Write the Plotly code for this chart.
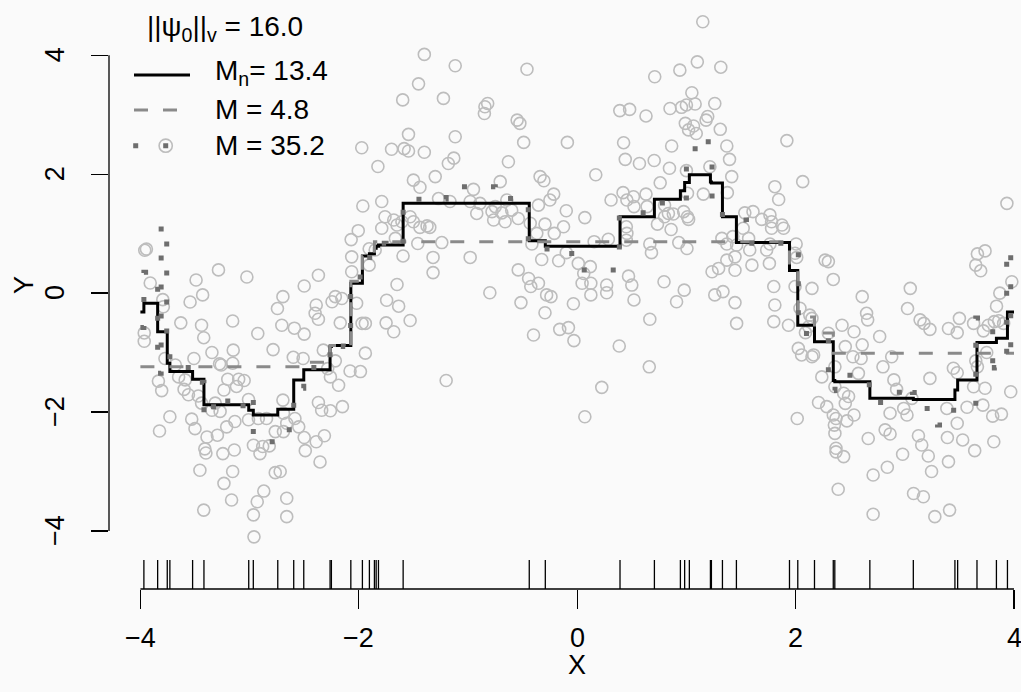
import plotly.graph_objects as go

# ------------------------------------------------------------------ data
# observations (x, y) read from the picture, grouped by region
obs_left = [
    (-3.96, 0.72), (-3.945, 0.74), (-3.91, 0.17), (-3.795, -0.11), (-3.79, -0.23),
    (-3.965, -0.67), (-3.965, -0.81), (-3.775, -1.10), (-3.68, -1.21), (-3.65, -1.41),
    (-3.835, -1.48), (-3.805, -1.64), (-3.60, -1.62), (-3.56, -1.71), (-3.73, -2.08),
    (-3.825, -2.32), (-3.49, 0.22), (-3.43, -0.03), (-3.545, -0.15), (-3.63, -0.50),
    (-3.44, -0.54), (-3.42, -0.75), (-3.285, 0.39), (-3.025, 0.27), (-3.155, -0.47),
    (-2.925, -0.68), (-2.785, -0.95), (-3.345, -1.0), (-3.51, -1.10), (-3.275, -1.19),
    (-3.26, -1.21), (-3.15, -0.96), (-3.155, -1.18), (-3.20, -1.45), (-3.10, -1.45),
    (-3.05, -1.47), (-3.12, -1.57), (-3.59, -1.46), (-3.47, -1.73), (-3.44, -1.85),
    (-3.235, -1.63), (-3.315, -1.85), (-3.345, -1.97), (-3.27, -1.99), (-3.21, -2.25),
    (-3.295, -2.39), (-3.39, -2.42), (-3.53, -2.12), (-3.50, -2.28), (-3.41, -2.62),
    (-3.40, -2.69), (-3.455, -2.98), (-3.245, -2.70), (-3.14, -2.64), (-3.155, -3.0),
    (-3.235, -3.20), (-3.165, -3.48), (-3.42, -3.65), (-3.01, -1.79), (-3.135, -2.16),
    (-3.01, -2.13), (-2.92, -2.11), (-2.845, -2.11), (-2.765, -2.33), (-2.69, -2.33),
    (-2.965, -2.56), (-2.905, -2.70), (-2.88, -2.58), (-2.82, -2.57), (-2.765, -3.02),
    (-2.72, -3.0), (-2.87, -3.33), (-2.93, -3.51), (-2.965, -3.73), (-2.96, -4.10),
    (-2.695, -0.06), (-2.745, -0.26), (-2.705, -0.54), (-2.695, -1.80), (-2.69, -2.02),
    (-2.66, -3.45), (-2.66, -3.76),
]
obs_leftmid = [
    (-1.825, 2.13), (-1.50, 1.90), (-1.44, 1.78), (-1.30, 1.96), (-1.963, 1.465),
    (-1.79, 1.54), (-1.76, 1.285), (-1.68, 1.23), (-1.65, 1.145), (-1.605, 1.20),
    (-1.53, 1.285), (-1.50, 1.20), (-1.44, 1.105), (-1.375, 1.13), (-1.35, 1.105),
    (-2.005, 1.05), (-2.07, 0.90), (-1.79, 1.09), (-1.905, 0.745), (-1.85, 0.725),
    (-1.665, 0.92), (-1.46, 0.835), (-1.595, 0.625), (-1.32, 0.60), (-1.32, 0.345),
    (-2.065, 0.61), (-1.905, 0.47), (-2.065, 0.36), (-2.37, 0.30), (-2.50, 0.12),
    (-1.65, 0.145), (-1.745, -0.12), (-1.635, -0.22), (-2.245, -0.145), (-2.155, -0.09),
    (-2.215, -0.06), (-2.39, -0.20), (-2.40, -0.34), (-2.37, -0.44), (-2.02, -0.17),
    (-2.17, -0.50), (-1.97, -0.51), (-1.94, -0.51), (-1.75, -0.50), (-1.68, -0.65),
    (-1.53, -0.46), (-2.59, -0.59), (-2.50, -0.69), (-2.325, -0.96), (-2.215, -1.14),
    (-2.285, -1.27), (-2.26, -1.41), (-2.185, -1.55), (-1.94, -1.01), (-2.08, -1.31),
    (-1.985, -1.32), (-2.60, -1.08), (-2.51, -1.10), (-2.37, -1.84), (-2.34, -1.97),
    (-2.26, -1.98), (-2.15, -1.91), (-2.66, -2.19), (-2.585, -2.11), (-2.55, -2.25),
    (-2.50, -2.43), (-2.39, -2.50), (-2.315, -2.40), (-2.49, -2.65), (-2.355, -2.84),
]
obs_top = [
    (-1.40, 4.015), (-1.117, 3.825), (-1.453, 3.52), (-1.598, 3.25), (-1.225, 3.275),
    (-1.545, 2.67), (-1.117, 2.63), (-1.973, 2.445), (-1.70, 2.42), (-1.585, 2.43),
    (-1.545, 2.39), (-1.40, 2.37), (-1.18, 2.18), (-1.13, 2.27),
]
obs_center = [
    (-0.46, 3.765), (-0.845, 3.135), (-0.82, 3.19), (-0.85, 3.02), (-0.55, 2.91),
    (-0.525, 2.855), (-0.49, 2.535), (-0.09, 2.535), (-0.63, 2.21), (-0.705, 1.875),
    (-0.95, 1.745), (-0.34, 1.96), (-0.305, 1.89), (-0.215, 1.665), (-0.25, 1.565),
    (-1.165, 1.54), (-1.27, 1.59), (-0.98, 1.54), (-0.89, 1.51), (-0.92, 1.34),
    (-0.78, 1.37), (-0.75, 1.455), (-0.765, 1.23), (-0.66, 1.20), (-0.69, 1.35),
    (-0.60, 1.395), (-0.54, 1.255), (-0.645, 1.565), (-0.355, 1.48), (-0.10, 1.385),
    (0.07, 1.27), (-0.43, 1.175), (-0.295, 1.16), (-0.21, 1.005), (-0.125, 1.115),
    (-0.37, 1.005), (-1.24, 0.85), (-0.415, 0.825), (-0.98, 0.60), (-0.325, 0.565),
    (-0.17, 0.545), (-0.10, 0.68), (-0.54, 0.39), (-0.445, 0.245), (-0.425, 0.11),
    (-0.355, 0.165), (0.01, 0.50), (0.06, 0.33), (0.045, 0.165), (-0.28, -0.03),
    (-0.24, -0.06), (-0.295, -0.33), (-0.80, 0.005), (-0.515, -0.16), (-0.035, -0.18),
    (-0.16, -0.61), (-0.08, -0.58), (-0.40, -0.705), (-0.03, -0.80), (-1.20, -1.47),
    (0.07, -2.08),
]
obs_centerright = [
    (1.15, 4.565), (1.10, 3.89), (0.94, 3.75), (1.315, 3.80), (0.71, 3.64),
    (1.05, 3.37), (1.00, 3.165), (1.08, 3.18), (0.955, 3.125), (1.26, 3.19),
    (0.85, 3.105), (0.39, 3.07), (0.48, 3.09), (0.63, 2.98), (0.99, 2.855),
    (1.02, 2.745), (1.065, 2.81), (1.09, 2.685), (1.18, 2.91), (1.195, 2.97),
    (1.31, 2.755), (0.425, 2.53), (0.865, 2.475), (1.37, 2.475), (0.44, 2.25),
    (0.57, 2.18), (0.705, 2.23), (0.845, 2.10), (1.00, 2.06), (1.215, 2.125),
    (1.395, 2.25), (0.17, 1.99), (0.76, 1.855), (1.415, 1.96), (1.01, 1.68),
    (1.155, 1.665), (1.375, 1.69), (0.42, 1.69), (0.31, 1.565), (0.455, 1.565),
    (0.515, 1.62), (0.63, 1.665), (0.52, 1.455), (0.64, 1.455), (0.80, 1.48),
    (0.835, 1.34), (0.88, 1.33), (0.80, 1.285), (0.975, 1.37), (1.01, 1.285),
    (1.02, 1.24), (0.86, 1.07), (0.735, 1.16), (0.45, 1.115), (0.455, 1.005),
    (0.45, 0.89), (0.155, 0.865), (0.285, 0.905), (0.665, 0.825), (0.68, 0.68),
    (0.93, 0.85), (1.005, 0.75), (1.325, 0.92), (1.37, 0.825), (1.425, 0.95),
    (1.46, 0.81), (1.37, 0.555), (1.235, 0.36), (1.295, 0.415), (1.445, 0.385),
    (0.12, 0.445), (0.125, 0.165), (0.125, -0.03), (0.27, 0.135), (0.27, 0.005),
    (0.47, 0.285), (0.50, 0.135), (0.52, -0.115), (0.795, 0.19), (0.98, 0.05),
    (0.91, -0.145), (1.26, -0.03), (1.335, 0.025), (1.445, -0.16), (1.46, -0.51),
    (0.665, -0.44), (0.385, -0.89), (0.66, -1.24), (0.225, -1.585),
]
obs_right = [
    (1.92, 2.565), (2.065, 1.875), (1.81, 1.79), (1.845, 1.575), (1.535, 1.35),
    (1.61, 1.37), (1.69, 1.24), (1.765, 1.315), (1.78, 1.20), (1.875, 1.145),
    (1.89, 1.09), (1.78, 1.09), (1.52, 1.09), (1.57, 0.92), (1.58, 0.725),
    (1.735, 0.725), (1.765, 0.825), (1.445, 0.61), (1.60, 0.47), (1.76, 0.50),
    (2.005, 0.825), (1.995, 0.67), (2.01, 0.60), (2.27, 0.555), (2.30, 0.53),
    (2.345, 0.23), (1.80, 0.11), (1.995, 0.11), (2.15, 0.08), (1.81, -0.20),
    (2.04, -0.255), (2.13, -0.37), (2.15, -0.425), (1.80, -0.48), (1.935, -0.54),
    (2.09, -0.665), (2.12, -0.565), (2.025, -0.93), (2.055, -1.04), (2.15, -1.07),
    (2.165, -1.04), (2.24, -1.41), (2.36, -1.575), (2.44, -1.685), (2.485, -1.74),
    (2.455, -1.855), (2.425, -0.54), (2.535, -0.65), (2.61, -0.87), (2.455, -0.90),
    (2.525, -1.07), (2.60, -1.10), (2.65, -0.34), (2.66, -0.45), (2.77, -0.73),
    (2.61, -0.06), (2.80, -1.24), (2.30, -0.675), (2.36, -1.24), (2.575, -1.35),
    (2.015, -2.11), (2.21, -1.84), (2.285, -1.91), (2.345, -2.05), (2.37, -2.11),
    (2.355, -2.22), (2.36, -2.36), (2.47, -2.15), (2.535, -2.05), (2.37, -2.61),
    (2.37, -2.67), (2.44, -2.75), (2.665, -2.445), (2.71, -3.06), (2.39, -3.30),
    (2.71, -3.72),
]
obs_farright = [
    (3.935, 1.51), (3.665, 0.66), (3.735, 0.71), (3.65, 0.47), (3.695, 0.375),
    (3.98, 0.19), (3.87, 0.0), (3.84, -0.22), (3.05, 0.08), (3.025, -0.26),
    (3.14, -0.45), (3.175, -0.51), (3.23, -0.61), (3.40, -0.595), (3.50, -0.425),
    (3.48, -0.665), (3.63, -0.51), (3.72, -0.635), (3.765, -0.54), (3.82, -0.48),
    (3.86, -0.465), (3.905, -0.51), (3.75, -1.0), (3.65, -1.14), (3.665, -1.24),
    (2.88, -1.07), (2.90, -1.46), (2.925, -1.62), (2.99, -1.94), (3.02, -2.05),
    (3.065, -1.77), (2.865, -2.02), (3.23, -1.435), (3.445, -1.265), (3.48, -1.34),
    (3.385, -1.94), (3.48, -2.19), (3.57, -1.92), (3.715, -1.885), (3.805, -2.07),
    (3.885, -2.035), (3.63, -1.575), (3.735, -1.60), (3.97, -1.66), (2.82, -2.30),
    (2.865, -2.37), (3.125, -2.40), (3.155, -2.555), (3.39, -2.43), (3.53, -2.47),
    (3.64, -2.65), (3.815, -2.50), (2.98, -2.71), (3.215, -2.74), (3.245, -3.0),
    (3.40, -2.835), (2.84, -2.93), (3.08, -3.37), (3.17, -3.425), (3.275, -3.76),
    (3.41, -3.65),
]

# step fit M_n = 13.4 (solid): knots (also shown as rug) and levels
x_start, x_end = -4.0, 4.0
fit_knots = [-3.968, -3.842, -3.754, -3.730, -3.522, -3.418, -3.008, -2.966, -2.742,
             -2.596, -2.504, -2.263, -2.251, -2.073, -1.967, -1.903, -1.857, -1.841,
             -1.820, -1.594, -0.439, -0.292, 0.392, 0.707, 0.945, 0.984, 1.027, 1.220,
             1.229, 1.330, 1.458, 1.944, 2.020, 2.173, 2.345, 2.359, 2.680, 3.078,
             3.459, 3.484, 3.661, 3.839, 3.940]
fit_levels = [-0.32, -0.17, -0.65, -1.18, -1.32, -1.45, -1.88, -1.97, -2.05, -1.955,
              -1.46, -1.29, -0.90, -0.88, 0.165, 0.625, 0.66, 0.755, 0.79, 0.81,
              1.51, 0.88, 0.79, 1.285, 1.58, 1.72, 1.86, 1.99, 1.87, 1.85, 1.285,
              0.85, 0.38, -0.54, -0.82, -1.47, -1.49, -1.77, -1.79, -1.63, -1.46,
              -0.83, -0.76, -0.32]

# step fit M = 4.8 (dashed)
coarse_knots = [-2.504, -2.263, -2.073, -1.967, -1.857, 1.944, 2.020, 2.173, 2.345]
coarse_levels = [-1.24, -1.165, -0.88, 0.20, 0.62, 0.865, 0.505, -0.40, -0.67, -1.01]

# step fit M = 35.2 (dotted)
fine_knots = [-3.968, -3.842, -3.810, -3.759, -3.730, -3.520, -3.418, -3.330, -3.200,
              -3.060, -2.966, -2.760, -2.596, -2.504, -2.263, -2.142, -2.075, -1.900,
              -1.750, -1.594, -1.200, -0.750, -0.448, -0.050, 0.386, 0.780, 1.000,
              1.080, 1.200, 1.235, 1.330, 1.550, 2.025, 2.300, 2.361, 2.675, 2.950,
              3.070, 3.150, 3.300, 3.420, 3.650, 3.805, 3.820, 3.933, 3.970]
fine_levels = [-0.58, 0.35, -1.35, 1.15, -0.90, -1.25, -1.50, -2.10, -1.74, -1.97,
               -1.71, -2.50, -2.30, -1.60, -1.25, -0.83, -0.90, 0.27, 0.84, 0.77,
               1.58, 1.79, 1.59, 0.74, 0.39, 1.35, 1.60, 2.30, 2.62, 2.30, 1.50,
               1.23, 0.84, -0.68, -1.64, -1.38, -1.84, -1.55, -1.67, -1.94, -2.22,
               -1.97, -0.42, -1.43, -1.25, 0.75, -1.07]

x_ticks = [-4, -2, 0, 2, 4]
x_tick_labels = ["\u22124", "\u22122", "0", "2", "4"]
y_ticks = [-4, -2, 0, 2, 4]
y_tick_labels = ["\u22124", "\u22122", "0", "2", "4"]
x_title, y_title = "X", "Y"
legend_title = "||\u03c8<sub>0</sub>||<sub>v</sub> = 16.0"
legend_labels = ["M<sub>n</sub>= 13.4", "M = 4.8", "M = 35.2"]

# ------------------------------------------------------------------ layout (page pixels)
W, H = 1021, 692
ML, MR, MT, MB = 109, 0, 0, H - 589
PW, PH = W - ML - MR, H - MT - MB
BG = "#FAFAFA"
C_PT = "#BDBDBD"
C_DASH = "#8A8A8A"
C_DOT = "#6E6E6E"
FONT = "Liberation Sans, Arial, sans-serif"
FS = 27
FS_LEG = 28
X0_PX, X_UNIT = 577.2, 109.2     # page px of x=0, px per unit
Y0_PX, Y_UNIT = 293.1, 59.45     # page px of y=0, px per unit


def step_xy(knots, levels):
    xs = [x_start] + list(knots) + [x_end]
    ys = list(levels) + [levels[-1]]
    return xs, ys


def paper_x(px):
    return (px - ML) / PW


def paper_y(py):
    return (MT + PH - py) / PH


fig = go.Figure()

all_obs = obs_left + obs_leftmid + obs_top + obs_center + obs_centerright + obs_right + obs_farright
fig.add_trace(go.Scatter(
    x=[p[0] for p in all_obs], y=[p[1] for p in all_obs], mode="markers",
    marker=dict(symbol="circle-open", size=12, color=C_PT, line=dict(width=1.6, color=C_PT)),
    showlegend=False, hoverinfo="skip"))

sx, sy = step_xy(fit_knots, fit_levels)
fig.add_trace(go.Scatter(x=sx, y=sy, mode="lines", line=dict(color="black", width=3, shape="hv"),
                         showlegend=False, hoverinfo="skip"))
cx, cy = step_xy(coarse_knots, coarse_levels)
fig.add_trace(go.Scatter(x=cx, y=cy, mode="lines",
                         line=dict(color=C_DASH, width=3, shape="hv", dash="14px,15px"),
                         showlegend=False, hoverinfo="skip"))
fx, fy = step_xy(fine_knots, fine_levels)
fig.add_trace(go.Scatter(x=fx, y=fy, mode="lines",
                         line=dict(color=C_DOT, width=5, shape="hv", dash="5px,24px"),
                         showlegend=False, hoverinfo="skip"))

shapes = []
shapes.append(dict(type="line", xref="x", yref="paper", x0=x_ticks[0], x1=x_ticks[-1], y0=0, y1=0,
                   line=dict(color="black", width=1.3)))
shapes.append(dict(type="line", xref="paper", yref="y", x0=0, x1=0, y0=y_ticks[0], y1=y_ticks[-1],
                   line=dict(color="black", width=1.3)))
rug_h = 29 / PH
for k in fit_knots:
    shapes.append(dict(type="line", xref="x", yref="paper", x0=k, x1=k, y0=0, y1=rug_h,
                       line=dict(color="black", width=1.3)))

rows_y = [75, 110, 145.7]
shapes.append(dict(type="line", xref="paper", yref="paper", x0=paper_x(134), x1=paper_x(190),
                   y0=paper_y(rows_y[0]), y1=paper_y(rows_y[0]), line=dict(color="black", width=3)))
shapes.append(dict(type="line", xref="paper", yref="paper", x0=paper_x(134), x1=paper_x(190),
                   y0=paper_y(rows_y[1]), y1=paper_y(rows_y[1]),
                   line=dict(color=C_DASH, width=3, dash="14px,15px")))
shapes.append(dict(type="line", xref="paper", yref="paper", x0=paper_x(133.2), x1=paper_x(190),
                   y0=paper_y(rows_y[2]), y1=paper_y(rows_y[2]),
                   line=dict(color=C_DOT, width=5, dash="5px,25px")))
r = 6.6
shapes.append(dict(type="circle", xref="paper", yref="paper",
                   x0=paper_x(165.7 - r), x1=paper_x(165.7 + r),
                   y0=paper_y(rows_y[2] + r), y1=paper_y(rows_y[2] - r),
                   line=dict(color=C_PT, width=1.6)))

annotations = []
tfont = dict(family=FONT, size=FS, color="black")
lfont = dict(family=FONT, size=FS_LEG, color="black")
for v, t in zip(x_ticks, x_tick_labels):
    annotations.append(dict(x=v, xref="x", y=0, yref="paper", yshift=-49, text=t,
                            showarrow=False, xanchor="center", yanchor="middle", font=tfont))
for v, t in zip(y_ticks, y_tick_labels):
    annotations.append(dict(x=0, xref="paper", xshift=-54, y=v, yref="y", text=t, textangle=-90,
                            showarrow=False, xanchor="center", yanchor="middle", font=tfont))
annotations.append(dict(x=paper_x(577), xref="paper", y=0, yref="paper", yshift=-76, text=x_title,
                        showarrow=False, xanchor="center", yanchor="middle", font=tfont))
annotations.append(dict(x=0, xref="paper", xshift=-85, y=paper_y(285), yref="paper", text=y_title,
                        textangle=-90, showarrow=False, xanchor="center", yanchor="middle", font=tfont))
annotations.append(dict(x=paper_x(145), xref="paper", y=paper_y(28), yref="paper", text=legend_title,
                        showarrow=False, xanchor="left", yanchor="middle", font=lfont))
for yy, t in zip([73, 109.5, 145.7], legend_labels):
    annotations.append(dict(x=paper_x(213), xref="paper", y=paper_y(yy), yref="paper", text=t,
                            showarrow=False, xanchor="left", yanchor="middle", font=lfont))

fig.update_layout(
    width=W, height=H, margin=dict(l=ML, r=MR, t=MT, b=MB, pad=0),
    paper_bgcolor=BG, plot_bgcolor=BG, showlegend=False, hovermode=False,
    shapes=shapes, annotations=annotations,
    xaxis=dict(range=[(109 - X0_PX) / X_UNIT, (1021 - X0_PX) / X_UNIT], showgrid=False,
               zeroline=False, showline=False, tickvals=x_ticks, ticks="outside", ticklen=19,
               tickwidth=1.3, tickcolor="black", showticklabels=False, fixedrange=True),
    yaxis=dict(range=[(Y0_PX - 589) / Y_UNIT, (Y0_PX - 0) / Y_UNIT], showgrid=False,
               zeroline=False, showline=False, tickvals=y_ticks, ticks="outside", ticklen=17,
               tickwidth=1.3, tickcolor="black", showticklabels=False, fixedrange=True),
    font=dict(family=FONT, size=FS, color="black"),
)

fig.write_html("out.html", config={"displayModeBar": False, "staticPlot": True},
               post_script="document.body.style.margin='0';document.body.style.overflow='hidden';"
                           "document.body.style.background='#FAFAFA';")
